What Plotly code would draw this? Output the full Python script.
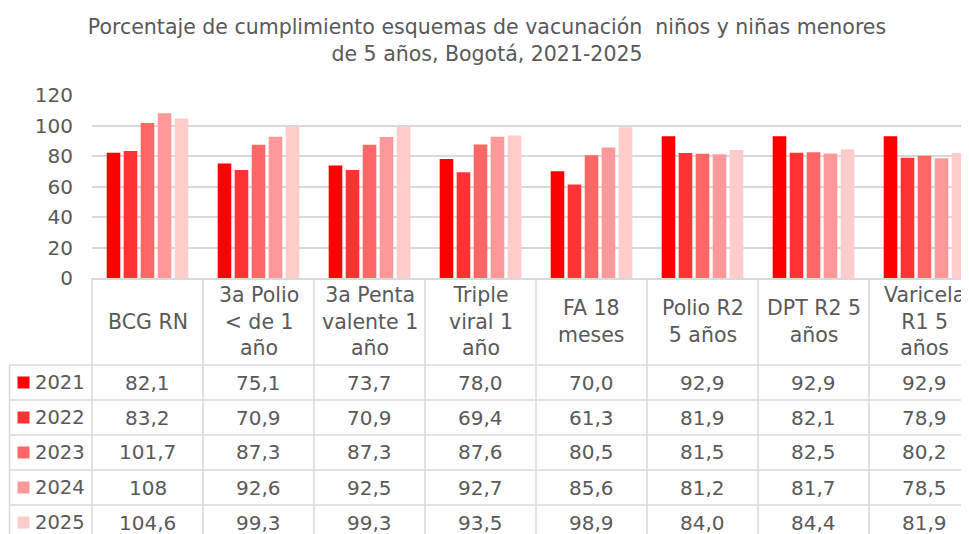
import plotly.graph_objects as go

# ---------------- data ----------------
categories = ["BCG RN", "3a Polio < de 1 año", "3a Penta valente 1 año", "Triple viral 1 año",
              "FA 18 meses", "Polio R2 5 años", "DPT R2 5 años", "Varicela R1 5 años"]
category_labels = ["BCG RN", "3a Polio<br>&lt; de 1<br>año", "3a Penta<br>valente 1<br>año",
                   "Triple<br>viral 1<br>año", "FA 18<br>meses", "Polio R2<br>5 años",
                   "DPT R2 5<br>años", "Varicela<br>R1 5<br>años"]
years = ["2021", "2022", "2023", "2024", "2025"]
vals_2021 = ["82,1", "75,1", "73,7", "78,0", "70,0", "92,9", "92,9", "92,9"]
vals_2022 = ["83,2", "70,9", "70,9", "69,4", "61,3", "81,9", "82,1", "78,9"]
vals_2023 = ["101,7", "87,3", "87,3", "87,6", "80,5", "81,5", "82,5", "80,2"]
vals_2024 = ["108", "92,6", "92,5", "92,7", "85,6", "81,2", "81,7", "78,5"]
vals_2025 = ["104,6", "99,3", "99,3", "93,5", "98,9", "84,0", "84,4", "81,9"]
series_text = [vals_2021, vals_2022, vals_2023, vals_2024, vals_2025]
colors = ["#FF0000", "#FF3333", "#FF6666", "#FF9999", "#FFCCCC"]
y_ticks = [0, 20, 40, 60, 80, 100, 120]

# ---------------- layout geometry (figure pixels; page body adds an 8px offset) ----------------
W, H = 969, 534
PL, PT, PB = 84, 87, 270          # plot left, top, bottom
PW, PHt = W - PL, PB - PT
CAT_W = 111.0
TEXT = "#595959"
GRID = "#D9D9D9"
FONT = "DejaVu Sans, Verdana, sans-serif"


def px_x(px):
    return (px - PL) / PW


def px_y(py):
    return (PB - py) / PHt


fig = go.Figure()
for yr, txt, col in zip(years, series_text, colors):
    fig.add_trace(go.Bar(
        x=categories,
        y=[float(s.replace(",", ".")) for s in txt],
        name=yr,
        marker=dict(color=col, line=dict(width=0)),
        showlegend=False,
    ))

shapes = []
annotations = []

# table geometry
header_bottom = 357
row_h = 35
row_tops = [header_bottom + i * row_h for i in range(len(years))]
left_edge = 1.5

# horizontal table lines
for yt in row_tops:
    shapes.append(dict(type="line", xref="paper", yref="paper",
                       x0=px_x(left_edge), x1=1, y0=px_y(yt), y1=px_y(yt),
                       line=dict(color=GRID, width=1.5)))
# left border of year column
shapes.append(dict(type="line", xref="paper", yref="paper",
                   x0=px_x(left_edge), x1=px_x(left_edge), y0=px_y(header_bottom), y1=px_y(H + 5),
                   line=dict(color=GRID, width=1.5)))
# border at plot left
shapes.append(dict(type="line", xref="paper", yref="paper",
                   x0=0, x1=0, y0=0, y1=px_y(H + 5),
                   line=dict(color=GRID, width=1.5)))
# category separators
for i in range(1, len(categories) + 1):
    shapes.append(dict(type="line", xref="x", yref="paper",
                       x0=i - 0.5, x1=i - 0.5, y0=0, y1=px_y(H + 5),
                       line=dict(color=GRID, width=1.5)))

# header labels
for cat, lab in zip(categories, category_labels):
    annotations.append(dict(x=cat, xref="x", yref="paper",
                            y=px_y((PB + header_bottom) / 2), text=lab, showarrow=False,
                            xanchor="center", yanchor="middle",
                            font=dict(size=20.5, color=TEXT, family=FONT)))

# rows
for r, (yr, txt, col) in enumerate(zip(years, series_text, colors)):
    yc = row_tops[r] + row_h / 2
    shapes.append(dict(type="rect", xref="paper", yref="paper",
                       x0=px_x(9.5), x1=px_x(21.5), y0=px_y(yc - 6), y1=px_y(yc + 6),
                       fillcolor=col, line=dict(width=0)))
    annotations.append(dict(x=px_x(25), xref="paper", y=px_y(yc), yref="paper",
                            text=yr, showarrow=False, xanchor="left", yanchor="middle",
                            font=dict(size=19.5, color=TEXT, family=FONT)))
    for cat, s in zip(categories, txt):
        annotations.append(dict(x=cat, xref="x", y=px_y(yc), yref="paper",
                                text=s, showarrow=False, xanchor="center", yanchor="middle",
                                font=dict(size=20, color=TEXT, family=FONT)))

fig.update_layout(
    width=W, height=H,
    margin=dict(l=PL, r=0, t=PT, b=H - PB, pad=0),
    paper_bgcolor="white", plot_bgcolor="white",
    barmode="group", bargap=0.234, bargroupgap=0.2,
    title=dict(
        text="Porcentaje de cumplimiento esquemas de vacunación  niños y niñas menores<br>de 5 años, Bogotá, 2021-2025",
        x=479 / W, xref="container", xanchor="center",
        y=1 - 26 / H, yref="container", yanchor="top",
        font=dict(size=20.5, color=TEXT, family=FONT),
    ),
    xaxis=dict(range=[-0.5, -0.5 + PW / CAT_W], showticklabels=False, ticks="",
               showgrid=False, showline=True, linecolor=GRID, linewidth=1.5, zeroline=False,
               fixedrange=True),
    yaxis=dict(range=[0, 120], tickvals=y_ticks, showgrid=True, gridcolor=GRID, gridwidth=1.5,
               zeroline=False, showline=False, ticks="", ticklabelstandoff=18,
               tickfont=dict(size=20, color=TEXT, family=FONT)),
    shapes=shapes,
    annotations=annotations,
)

fig.write_html("out.html")
